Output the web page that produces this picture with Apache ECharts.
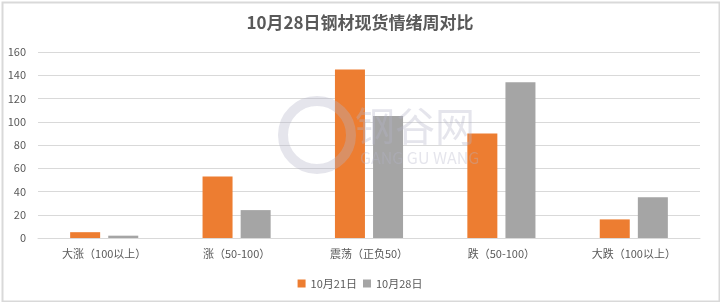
<!DOCTYPE html>
<html><head><meta charset="utf-8">
<script src="https://cdn.jsdelivr.net/npm/echarts@6/dist/echarts.min.js"></script>
<style>html,body{margin:0;padding:0;background:#fff}#c{width:720px;height:302px}</style>
</head><body><div id="c"></div>
<script>
var categories = ['大涨（100以上）','涨（50-100）','震荡（正负50）','跌（50-100）','大跌（100以上）'];
var seriesNames = ['10月21日','10月28日'];
var oct21 = [5, 53, 145, 90, 16];
var oct28 = [2, 24, 105, 134, 35];
var yTicks = [0, 20, 40, 60, 80, 100, 120, 140, 160];

var chart = echarts.init(document.getElementById('c'));
var font = '"Noto Sans CJK SC", sans-serif';
chart.setOption({
  animation: false,
  backgroundColor: '#fff',
  title: {text: '10月28日钢材现货情绪周对比', left: 'center', top: 9,
    textStyle: {color: '#595959', fontSize: 17, fontWeight: 'bold', fontFamily: font}},
  legend: {bottom: 8, left: 'center', itemWidth: 8, itemHeight: 8, itemGap: 6, icon: 'rect',
    textStyle: {color: '#595959', fontSize: 11, fontFamily: font}},
  graphic: [
    {type: 'rect', left: 0, top: 0, shape: {x: 1, y: 1, width: 717, height: 299},
     style: {fill: 'none', stroke: '#d9d9d9', lineWidth: 2}, silent: true, z: -1},
    {type: 'text', left: 355, top: 106, z: 100, style: {text: '钢谷网', fontSize: 40, fill: 'rgba(180,180,200,0.35)', fontFamily: font}},
    {type: 'text', left: 360, top: 150, z: 100, style: {text: 'GANG GU WANG', fontSize: 16, fill: 'rgba(180,180,200,0.35)', fontFamily: font}},
    {type: 'circle', left: 278, top: 96, z: 100, shape: {r: 34}, style: {fill: 'none', stroke: 'rgba(180,180,200,0.35)', lineWidth: 10}}
  ],
  grid: {left: 38, right: 20, top: 52, bottom: 64},
  xAxis: {type: 'category', data: categories,
    axisLine: {lineStyle: {color: '#d9d9d9'}}, axisTick: {show: false},
    axisLabel: {color: '#595959', fontSize: 11, fontFamily: font, margin: 10}},
  yAxis: {type: 'value', min: yTicks[0], max: yTicks[yTicks.length-1], interval: 20,
    axisLine: {show: false}, axisTick: {show: false},
    axisLabel: {color: '#595959', fontSize: 11, fontFamily: font, margin: 12},
    splitLine: {lineStyle: {color: '#d9d9d9'}}},
  series: [
    {name: seriesNames[0], type: 'bar', data: oct21, barWidth: 30, barGap: '27%', itemStyle: {color: '#ED7D31'}},
    {name: seriesNames[1], type: 'bar', data: oct28, barWidth: 30, itemStyle: {color: '#A5A5A5'}}
  ]
});
</script></body></html>
